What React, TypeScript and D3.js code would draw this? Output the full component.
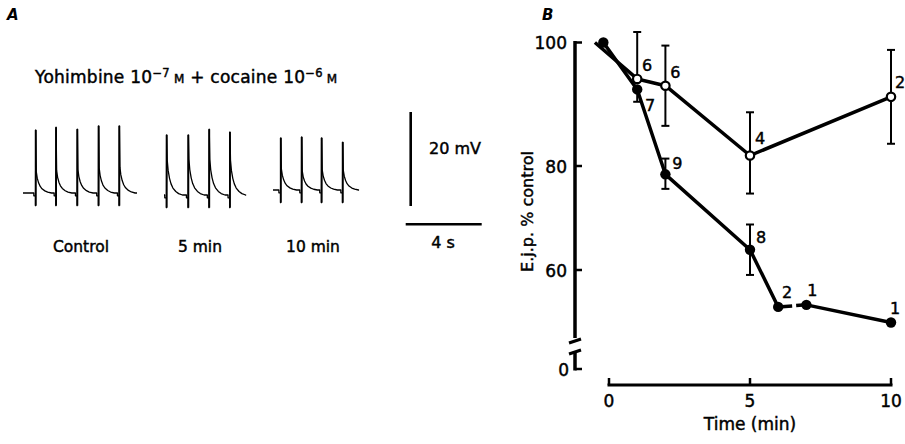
import React from 'react';
import * as d3 from 'd3';

// ---------- Panel B data ----------
const openTime = [-0.5, 1, 2, 5, 10];
const openValue = [100, 94.1, 93, 81.7, 91.2];
const openSE = [0, 7.6, 6.5, 7, 7.6];
const openErrDir = ['none', 'up', 'both', 'both', 'both'];
const openN = ['', '6', '6', '4', '2'];

const filledTime = [-0.2, 1, 2, 5, 6, 7, 10];
const filledValue = [100, 92.4, 78.4, 63.9, 52.9, 53.3, 49.9];
const filledSE = [0, 2, 2.8, 4.85, 0, 0, 0];
const filledErrDir = ['none', 'down', 'both', 'both', 'none', 'none', 'none'];
const filledN = ['', '7', '9', '8', '2', '1', '1'];

const yTicks = [100, 80, 60];
const xTicks = [0, 5, 10];

// ---------- Panel A data (mV relative to baseline, time in s) ----------
const ejpTemplateDt = [0, 0.05, 0.12, 0.2, 0.3, 0.45, 0.6, 0.8];
const ejpTemplateFrac = [1, 0.7, 0.48, 0.32, 0.2, 0.1, 0.04, 0];

const controlSpikes = [0.67, 1.74, 2.86, 3.98, 5.07];
const controlTops = [13.4, 14.0, 13.6, 14.3, 14.3];
const controlEjp = [4.5, 4.8, 5.0, 5.3, 5.5];
const min5Spikes = [0.14, 1.28, 2.38, 3.47];
const min5Tops = [12.8, 12.8, 14.0, 13.4];
const min5Ejp = [7.4, 7.6, 7.6, 7.4];
const min10Spikes = [0.41, 1.51, 2.56, 3.67];
const min10Tops = [11.1, 11.3, 11.1, 10.2];
const min10Ejp = [4.5, 4.0, 4.3, 4.2];
const traceDurations = [6.0, 4.26, 4.47];
const traceLabels = ['Control', '5 min', '10 min'];
const spikeBottom = -2.7;

const FONT = '"DejaVu Sans", sans-serif';

function tracePoints(spikes: number[], tops: number[], ejps: number[], dur: number) {
  const pts: [number, number][] = [[0, 0]];
  spikes.forEach((ts, i) => {
    pts.push([Math.max(0, ts - 0.1), 0], [Math.max(0, ts - 0.1), -0.6], [ts - 0.01, -0.6], [ts - 0.01, spikeBottom], [ts, tops[i]], [ts + 0.03, ejps[i]]);
    ejpTemplateDt.forEach((dt, k) => {
      if (k > 0) pts.push([ts + 0.03 + dt, ejps[i] * ejpTemplateFrac[k]]);
    });
  });
  pts.push([dur, 0]);
  return pts;
}

export default function App() {
  // Panel B scales
  const x = d3.scaleLinear().domain([0, 10]).range([609, 891]);
  const y = d3.scaleLinear().domain([60, 80, 100]).range([270, 166, 42.5]);
  const yZero = 369;
  const axisX = 575;
  const axisY = 385;

  const openPts = openTime.map((t, i) => [x(t), y(openValue[i])] as [number, number]);
  const filledPts = filledTime.map((t, i) => [x(t), y(filledValue[i])] as [number, number]);
  const line = d3.line();

  const openLabelOff = [[0, 0], [10, -13], [10, -13], [10, -17], [9, -14]];
  const filledLabelOff = [[0, 0], [13, 16], [12, -11], [11, -12], [9, -14], [6, -14], [4, -14]];

  // Panel A scales
  const tx = d3.scaleLinear().domain([0, 4]).range([0, 76]);
  const mv = d3.scaleLinear().domain([0, 20]).range([0, -94]);
  const traceOrigin = [[23, 193], [164, 195], [273, 190]];
  const traces = [
    tracePoints(controlSpikes, controlTops, controlEjp, traceDurations[0]),
    tracePoints(min5Spikes, min5Tops, min5Ejp, traceDurations[1]),
    tracePoints(min10Spikes, min10Tops, min10Ejp, traceDurations[2]),
  ];
  const traceSpikes = [
    [controlSpikes, controlTops],
    [min5Spikes, min5Tops],
    [min10Spikes, min10Tops],
  ];
  const labelX = [81, 200, 313];

  const errBar = (px: number, v: number, se: number, dir: string, key: string) => {
    if (dir === 'none') return null;
    const yTop = dir === 'down' ? y(v) : y(v + se);
    const yBot = dir === 'up' ? y(v) : y(v - se);
    return (
      <g key={key} stroke="#000" strokeWidth={2}>
        <line x1={px} x2={px} y1={yTop} y2={yBot} />
        {dir !== 'down' && <line x1={px - 4} x2={px + 4} y1={yTop} y2={yTop} />}
        {dir !== 'up' && <line x1={px - 4} x2={px + 4} y1={yBot} y2={yBot} />}
      </g>
    );
  };

  const txtStroke = { stroke: '#000', strokeWidth: 0.45 };

  return (
    <svg width={905} height={444} style={{ position: 'absolute', left: 0, top: 0, background: '#fff' }} fontFamily={FONT}>
      <rect width={905} height={444} fill="#fff" />
      {/* ---------- Panel A ---------- */}
      <text x={7} y={20} fontSize={15} fontWeight="bold" fontStyle="italic">A</text>
      <g {...txtStroke}>
        <text x={35} y={83} fontSize={17} letterSpacing={0.25}>
          Yohimbine 10<tspan fontSize={11.5} dy={-6.5}>−7</tspan>
          <tspan dy={6.5} fontSize={12}> M</tspan>
          <tspan fontSize={17}> + cocaine 10</tspan>
          <tspan fontSize={11.5} dy={-6.5}>−6</tspan>
          <tspan dy={6.5} fontSize={12}> M</tspan>
        </text>
      </g>
      {traces.map((pts, i) => {
        const [ox, oy] = traceOrigin[i];
        const p = d3.line<[number, number]>().x(d => ox + tx(d[0])).y(d => oy + mv(d[1]))(pts) || '';
        return <path key={i} d={p} fill="none" stroke="#000" strokeWidth={1.3} strokeLinejoin="round" />;
      })}
      {traceSpikes.map(([sp, tops], i) => {
        const [ox, oy] = traceOrigin[i];
        return (
          <g key={'sp' + i} stroke="#000" strokeWidth={1.9}>
            {sp.map((ts, k) => (
              <line key={k} x1={ox + tx(ts)} x2={ox + tx(ts)} y1={oy + mv(spikeBottom)} y2={oy + mv(tops[k])} />
            ))}
          </g>
        );
      })}
      <g {...txtStroke}>
        {traceLabels.map((l, i) => (
          <text key={l} x={labelX[i]} y={252} fontSize={15.5} textAnchor="middle">{l}</text>
        ))}
        <text x={429} y={154} fontSize={16}>20 mV</text>
        <text x={443} y={248} fontSize={16} textAnchor="middle">4 s</text>
      </g>
      <line x1={410.7} x2={410.7} y1={206} y2={206 + mv(20)} stroke="#000" strokeWidth={2.6} />
      <line x1={405.7} x2={405.7 + tx(4)} y1={224.3} y2={224.3} stroke="#000" strokeWidth={2.6} />

      {/* ---------- Panel B ---------- */}
      <text x={542} y={20} fontSize={15} fontWeight="bold" fontStyle="italic">B</text>
      {/* y axis */}
      <g stroke="#000" strokeWidth={3.5} fill="none">
        <line x1={axisX} x2={axisX} y1={y(100) - 1.5} y2={338} />
        <line x1={axisX} x2={axisX} y1={352} y2={yZero + 1.5} />
        <line x1={axisX - 6} x2={axisX + 6} y1={343} y2={339} strokeWidth={3} />
        <line x1={axisX - 6} x2={axisX + 6} y1={354} y2={350} strokeWidth={3} />
        {yTicks.map(t => (
          <line key={t} x1={axisX} x2={axisX + 7} y1={y(t)} y2={y(t)} strokeWidth={2.5} />
        ))}
        <line x1={axisX} x2={axisX + 7} y1={yZero} y2={yZero} strokeWidth={2.5} />
      </g>
      <g {...txtStroke}>
        {yTicks.map(t => (
          <text key={t} x={567} y={y(t) + 6.5} fontSize={17} textAnchor="end">{t}</text>
        ))}
        <text x={569} y={yZero + 6.5} fontSize={17} textAnchor="end">0</text>
        <text transform={`translate(533,211.5) rotate(-90)`} fontSize={16} textAnchor="middle">E.j.p. % control</text>
        {xTicks.map(t => (
          <text key={t} x={x(t)} y={407} fontSize={17} textAnchor="middle">{t}</text>
        ))}
        <text x={750} y={430} fontSize={17} textAnchor="middle">Time (min)</text>
      </g>
      {/* x axis */}
      <g stroke="#000" strokeWidth={3} fill="none">
        <line x1={x(0) - 1.5} x2={x(10) + 1.5} y1={axisY} y2={axisY} />
        {xTicks.map(t => (
          <line key={t} x1={x(t)} x2={x(t)} y1={axisY} y2={axisY - 7} strokeWidth={2.5} />
        ))}
      </g>

      {/* error bars */}
      {openPts.map((p, i) => errBar(p[0], openValue[i], openSE[i], openErrDir[i], 'oe' + i))}
      {filledPts.map((p, i) => errBar(p[0], filledValue[i], filledSE[i], filledErrDir[i], 'fe' + i))}

      {/* lines */}
      <path d={line(filledPts.slice(0, 5)) || ''} fill="none" stroke="#000" strokeWidth={3.5} strokeLinejoin="round" />
      <path d={line(filledPts.slice(4, 6)) || ''} fill="none" stroke="#000" strokeWidth={3.5} strokeDasharray="14 4 30" />
      <path d={line(filledPts.slice(5)) || ''} fill="none" stroke="#000" strokeWidth={3.5} strokeLinejoin="round" />
      <path d={line(openPts) || ''} fill="none" stroke="#000" strokeWidth={3.5} strokeLinejoin="round" />

      {/* symbols */}
      {filledPts.map((p, i) => (
        <circle key={'fd' + i} cx={p[0]} cy={p[1]} r={5.2} fill="#000" />
      ))}
      {openPts.map((p, i) => i > 0 && (
        <circle key={'od' + i} cx={p[0]} cy={p[1]} r={4.2} fill="#fff" stroke="#000" strokeWidth={2.2} />
      ))}

      {/* n labels */}
      <g {...txtStroke}>
        {openPts.map((p, i) => openN[i] && (
          <text key={'on' + i} x={p[0] + openLabelOff[i][0]} y={p[1] + openLabelOff[i][1] + 5.5} fontSize={16} textAnchor="middle">{openN[i]}</text>
        ))}
        {filledPts.map((p, i) => filledN[i] && (
          <text key={'fn' + i} x={p[0] + filledLabelOff[i][0]} y={p[1] + filledLabelOff[i][1] + 5.5} fontSize={16} textAnchor="middle">{filledN[i]}</text>
        ))}
      </g>
    </svg>
  );
}
